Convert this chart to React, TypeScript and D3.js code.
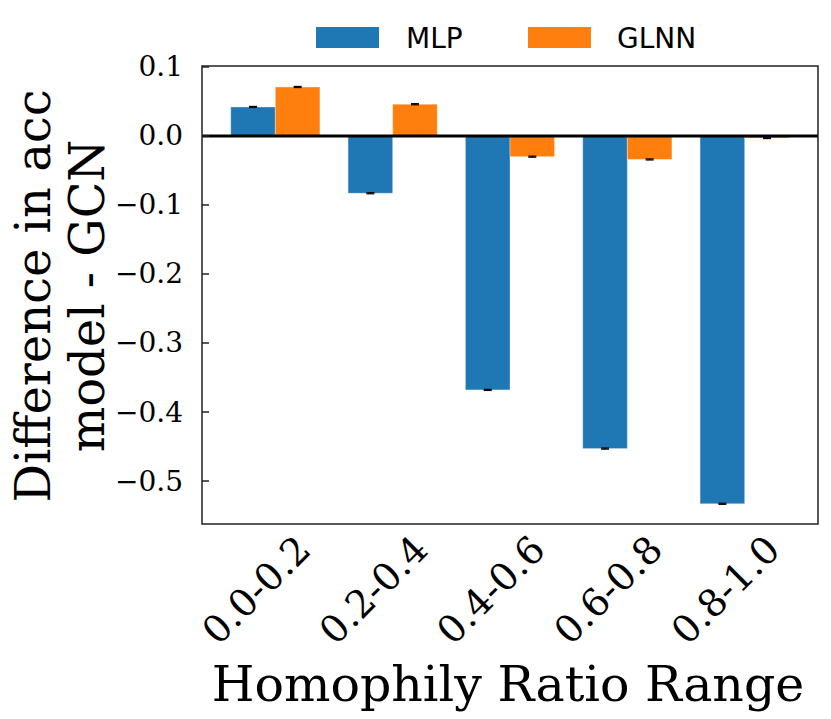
import React from "react";
import * as d3 from "d3";

const categories = ["0.0-0.2", "0.2-0.4", "0.4-0.6", "0.6-0.8", "0.8-1.0"];
const mlpValues = [0.042, -0.083, -0.368, -0.453, -0.533];
const glnnValues = [0.071, 0.046, -0.03, -0.034, -0.003];
const mlpErrors = [0.0008, 0.0008, 0.0008, 0.0008, 0.0008];
const glnnErrors = [0.0008, 0.0008, 0.0008, 0.0008, 0.0008];
const yTicks = [0.1, 0.0, -0.1, -0.2, -0.3, -0.4, -0.5];

const W = 831;
const H = 719;
const plot = { left: 202, right: 818, top: 66, bottom: 524 };
const barWidth = 0.38;
const colors = { mlp: "#1f77b4", glnn: "#ff7f0e" };
const serif = "DejaVu Serif";
const sans = "DejaVu Sans";

export default function App() {
    const x = d3.scaleLinear().domain([-0.625, 4.625]).range([plot.left, plot.right]);
    const y = d3.scaleLinear().domain([-0.5623, 0.1014]).range([plot.bottom, plot.top]);
    const fmt = d3.format(".1f");

    const series = [
        { key: "MLP", values: mlpValues, errors: mlpErrors, color: colors.mlp, offset: -barWidth / 2 },
        { key: "GLNN", values: glnnValues, errors: glnnErrors, color: colors.glnn, offset: barWidth / 2 },
    ];
    const bw = x(barWidth) - x(0);

    return (
        <svg width={W} height={H} style={{ position: "absolute", left: 0, top: 0, background: "#fff" }}>
            {/* bars */}
            {series.map((s) =>
                s.values.map((v, i) => {
                    const cx = x(i + s.offset);
                    const y0 = y(Math.max(0, v));
                    const y1 = y(Math.min(0, v));
                    return (
                        <rect key={s.key + i} x={cx - bw / 2} y={y0} width={bw} height={y1 - y0}
                            fill={s.color} stroke="#ffffff" strokeOpacity={0.35} strokeWidth={1} />
                    );
                })
            )}
            {/* error bars */}
            {series.map((s) =>
                s.values.map((v, i) => {
                    const cx = x(i + s.offset);
                    const hi = y(v + s.errors[i]);
                    const lo = y(v - s.errors[i]);
                    return (
                        <g key={"e" + s.key + i} stroke="#000" strokeWidth={1.2}>
                            <line x1={cx} x2={cx} y1={hi} y2={lo} />
                            <line x1={cx - 4} x2={cx + 4} y1={hi} y2={hi} />
                            <line x1={cx - 4} x2={cx + 4} y1={lo} y2={lo} />
                        </g>
                    );
                })
            )}
            {/* zero line */}
            <line x1={plot.left} x2={plot.right} y1={y(0)} y2={y(0)} stroke="#000" strokeWidth={3} />
            {/* spines */}
            <rect x={plot.left} y={plot.top} width={plot.right - plot.left} height={plot.bottom - plot.top}
                fill="none" stroke="#222" strokeWidth={1.5} />
            {/* y ticks */}
            {yTicks.map((t) => (
                <g key={t}>
                    <line x1={plot.left} x2={plot.left + 7} y1={y(t)} y2={y(t)} stroke="#222" strokeWidth={1.5} />
                    <text x={183} y={y(t)} textAnchor="end" dominantBaseline="central"
                        fontFamily={serif} fontSize={28} fill="#000">{fmt(t)}</text>
                </g>
            ))}
            {/* x tick labels */}
            {categories.map((c, i) => (
                <text key={c} transform={`translate(${x(i) - 19},590) rotate(-45)`} textAnchor="middle"
                    dominantBaseline="central" fontFamily={serif} fontSize={38} fill="#000">{c}</text>
            ))}
            {/* axis labels */}
            <text x={508} y={701} textAnchor="middle" fontFamily={serif} fontSize={49} fill="#000">
                Homophily Ratio Range
            </text>
            <text transform="translate(50,296) rotate(-90)" textAnchor="middle" fontFamily={serif} fontSize={48} fill="#000">
                Difference in acc
            </text>
            <text transform="translate(104,296) rotate(-90)" textAnchor="middle" fontFamily={serif} fontSize={48} fill="#000">
                model - GCN
            </text>
            {/* legend */}
            <rect x={316} y={27} width={63} height={21} fill={colors.mlp} />
            <text x={406} y={48} fontFamily={sans} fontSize={28} fill="#000">MLP</text>
            <rect x={528} y={27} width={63} height={21} fill={colors.glnn} />
            <text x={617} y={48} fontFamily={sans} fontSize={28} fill="#000">GLNN</text>
        </svg>
    );
}
